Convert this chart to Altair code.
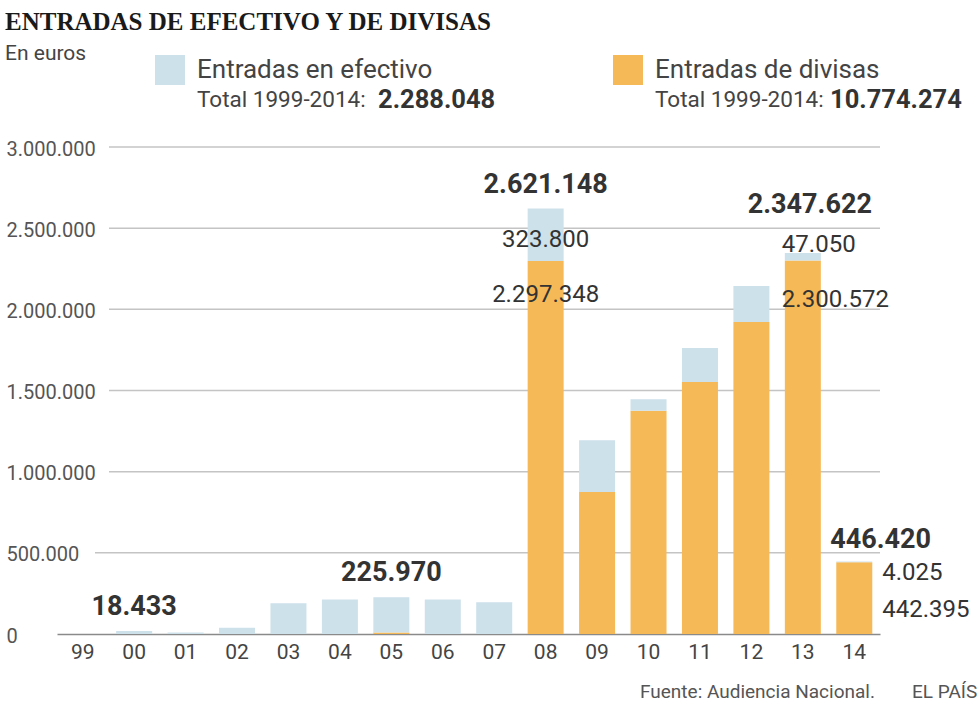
import altair as alt
import pandas as pd

# ---------------- data ----------------
years = ["99", "00", "01", "02", "03", "04", "05", "06", "07",
         "08", "09", "10", "11", "12", "13", "14"]
efectivo = [0, 18433, 10000, 38000, 190000, 212000, 216970, 212000, 196000,
            323800, 320000, 70000, 209000, 222000, 47050, 4025]
divisas = [0, 0, 0, 0, 0, 0, 9000, 0, 0,
           2297348, 874000, 1376000, 1553000, 1922000, 2300572, 442395]
series = ["Entradas en efectivo", "Entradas de divisas"]
colors = ["#cde1eb", "#f6b957"]
y_ticks = [0, 500000, 1000000, 1500000, 2000000, 2500000, 3000000]

title_txt = "ENTRADAS DE EFECTIVO Y DE DIVISAS"
unit_txt = "En euros"
total_prefix = "Total 1999-2014:"
total_efectivo = "2.288.048"
total_divisas = "10.774.274"
source_txt = "Fuente: Audiencia Nacional."
brand_txt = "EL PAÍS"

W, H = 823, 487
FONT = "Roboto"


def fmt(v):
    return f"{v:,}".replace(",", ".")


long_rows = []
for i, y in enumerate(years):
    long_rows.append({"year": y, "serie": series[1], "value": divisas[i], "ord": 0})
    long_rows.append({"year": y, "serie": series[0], "value": efectivo[i], "ord": 1})
bars_df = pd.DataFrame(long_rows)

totals = [e + d for e, d in zip(efectivo, divisas)]
info = pd.DataFrame({"year": years, "efe": efectivo, "div": divisas, "tot": totals})
info["tot_txt"] = info["tot"].map(fmt)
info["efe_txt"] = info["efe"].map(fmt)
info["div_txt"] = info["div"].map(fmt)

xscale = alt.Scale(domain=years, paddingInner=0.3, paddingOuter=0.15)
yscale = alt.Scale(domain=[0, 3000000], nice=False, zero=True)

bars = alt.Chart(bars_df).mark_bar().encode(
    x=alt.X("year:N", scale=xscale,
            axis=alt.Axis(title=None, ticks=False, domain=True, domainColor="#8a8a8a",
                          domainWidth=1.5, labelAngle=0, labelFont=FONT,
                          labelFontSize=21, labelColor="#444", labelPadding=7)),
    y=alt.Y("value:Q", stack="zero", scale=yscale,
            axis=alt.Axis(title=None, values=y_ticks, grid=False, domain=False,
                          ticks=False, tickSize=0, labelAlign="left", labelPadding=51,
                          labelFont=FONT, labelFontSize=20, labelColor="#555",
                          labelBaseline="middle", labelOffset=2, labelFlush=False,
                          labelOverlap=False,
                          labelExpr="replace(format(datum.value, ','), regexp(',', 'g'), '.')")),
    color=alt.Color("serie:N", scale=alt.Scale(domain=series, range=colors),
                    legend=alt.Legend(orient="none", legendX=98, legendY=-92,
                                      direction="horizontal", columns=2, title=None,
                                      symbolType="square", symbolSize=900,
                                      symbolStrokeWidth=0, symbolOpacity=1,
                                      labelFont=FONT, labelFontSize=26, labelColor="#444",
                                      labelOffset=12, labelLimit=500, columnPadding=180)),
    order=alt.Order("ord:Q"),
)

grid_df = pd.DataFrame({"v": y_ticks[1:]})
grid = alt.Chart(grid_df).transform_calculate(
    gx="7*length(format(datum.v, ',')) - 11"
).mark_rule(color="#c4c4c4", strokeWidth=1.5).encode(
    x=alt.X("gx:Q", scale=None),
    x2=alt.value(W),
    y=alt.Y("v:Q", scale=yscale),
)


def value_label(years_sel, anchor, text_col, bold, dx=0, dy=0, align="center"):
    sub = info[info["year"].isin(years_sel)]
    return alt.Chart(sub).mark_text(
        font=FONT, fontSize=27 if bold else 24, fontWeight="bold" if bold else "normal",
        color="#333", align=align, baseline="middle", dx=dx, dy=dy,
    ).encode(
        x=alt.X("year:N", scale=xscale),
        y=alt.Y(f"{anchor}:Q", scale=yscale),
        text=alt.Text(f"{text_col}:N"),
    )


labels = [
    value_label(["00", "05", "08"], "tot", "tot_txt", True, dy=-24),
    value_label(["13"], "tot", "tot_txt", True, dx=7, dy=-48),
    value_label(["14"], "tot", "tot_txt", True, dx=-24, dy=-22, align="left"),
    value_label(["08"], "tot", "efe_txt", False, dy=31),
    value_label(["08"], "div", "div_txt", False, dy=34),
    value_label(["13"], "tot", "efe_txt", False, dx=-21, dy=-8, align="left"),
    value_label(["13"], "div", "div_txt", False, dx=-21, dy=39, align="left"),
    value_label(["14"], "tot", "efe_txt", False, dx=28, dy=11, align="left"),
    value_label(["14"], "div", "div_txt", False, dx=28, dy=48, align="left"),
]


def free_text(txt, x, y, size, weight="normal", color="#444", font=FONT, align="left"):
    return alt.Chart(pd.DataFrame({"t": [txt]})).mark_text(
        font=font, fontSize=size, fontWeight=weight, color=color,
        align=align, baseline="middle",
    ).encode(text="t:N", x=alt.value(x), y=alt.value(y))


header = [
    free_text(title_txt, -52, -125, 25, "bold", "#1a1a1a", "Liberation Serif"),
    free_text(unit_txt, -52, -93, 21, color="#444"),
    free_text(total_prefix, 140, -47, 22.5, color="#444"),
    free_text(total_efectivo, 321, -47, 25.5, "bold", "#333"),
    free_text(total_prefix, 598, -47, 22.5, color="#444"),
    free_text(total_divisas, 773, -47, 25.5, "bold", "#333"),
    free_text(source_txt, 583, 545, 19, color="#555"),
    free_text(brand_txt, 855, 545, 19, color="#555"),
]

chart = alt.layer(grid, bars, *labels, *header).properties(
    width=W, height=H,
    padding={"left": 57, "top": 147, "right": 100, "bottom": 76},
    autosize=alt.AutoSizeParams(type="none"),
    background="white",
).configure_view(stroke=None)

chart.save("out.html", embed_options={"renderer": "svg", "actions": False})
